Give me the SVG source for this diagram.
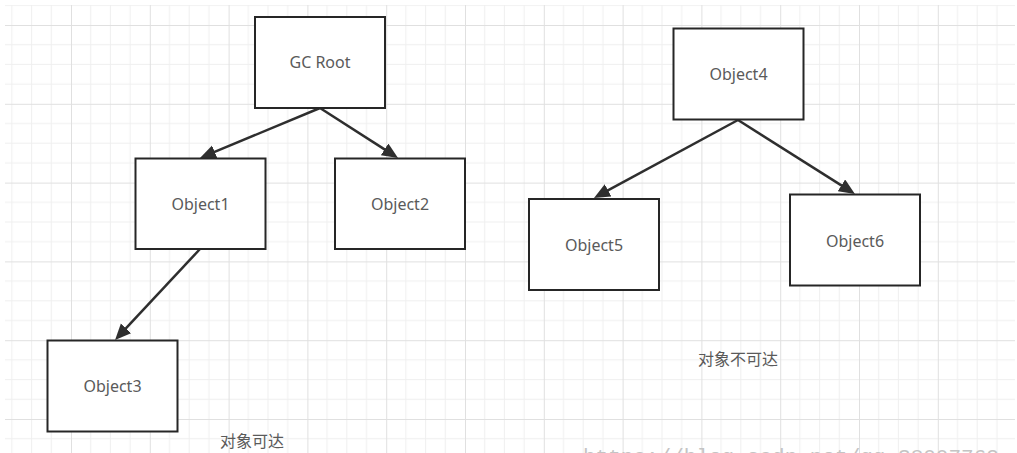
<svg xmlns="http://www.w3.org/2000/svg" width="1017" height="453" viewBox="0 0 1017 453">
  <style>
    .box { fill: #ffffff; stroke: #262626; stroke-width: 2; }
    .lbl { font-family: "Noto Sans", "Noto Sans CJK SC", sans-serif; font-size: 16px; fill: #5a5a5a; text-anchor: middle; }
    .cap { font-family: "Noto Sans CJK SC", "Noto Sans", sans-serif; font-size: 16px; fill: #5a5a5a; text-anchor: middle; }
    .edge { fill: none; stroke: #2e2e2e; stroke-width: 2.5; }
    .wm { font-family: "Liberation Mono", monospace; font-size: 21px; fill: #c4c4c4; }
  </style>
  <defs>
    <pattern id="grid" patternUnits="userSpaceOnUse" x="-7.8" y="-53.8" width="78.8" height="78.8">
      <path d="M19.7,0 V78.8 M39.4,0 V78.8 M59.1,0 V78.8 M0,19.7 H78.8 M0,39.4 H78.8 M0,59.1 H78.8" stroke="#efefef" stroke-width="1" fill="none"/>
      <path d="M0.5,0 V78.8 M0,0.5 H78.8" stroke="#e0e0e0" stroke-width="1" fill="none"/>
    </pattern>
    <marker id="arr" markerUnits="userSpaceOnUse" markerWidth="18" markerHeight="15" refX="6" refY="7" orient="auto">
      <path d="M0,0 L16,7 L0,14 Z" fill="#2e2e2e"/>
    </marker>
  </defs>
  <rect x="0" y="0" width="1017" height="453" fill="#ffffff"/>
  <rect x="5" y="5" width="1010" height="448" fill="url(#grid)"/>

  <g id="connectors">
    <path class="edge" d="M320,108 L209.2,154.2" marker-end="url(#arr)"/>
    <path class="edge" d="M320,108 L389.6,152.6" marker-end="url(#arr)"/>
    <path class="edge" d="M200,249 L121.9,332.7" marker-end="url(#arr)"/>
    <path class="edge" d="M738,120 L602.8,193.2" marker-end="url(#arr)"/>
    <path class="edge" d="M738,120 L846.5,188.6" marker-end="url(#arr)"/>
  </g>

  <g id="gcroot">
    <rect class="box" x="255" y="17" width="130" height="91"/>
    <text class="lbl" x="320" y="68">GC Root</text>
  </g>
  <g id="object1">
    <rect class="box" x="135.5" y="158.5" width="130" height="90.5"/>
    <text class="lbl" x="200.5" y="210">Object1</text>
  </g>
  <g id="object2">
    <rect class="box" x="335" y="158.5" width="130" height="90.5"/>
    <text class="lbl" x="400" y="210">Object2</text>
  </g>
  <g id="object3">
    <rect class="box" x="47.5" y="340.5" width="130" height="91"/>
    <text class="lbl" x="112.5" y="392">Object3</text>
  </g>
  <g id="object4">
    <rect class="box" x="673.5" y="28.5" width="130" height="91"/>
    <text class="lbl" x="738.5" y="80">Object4</text>
  </g>
  <g id="object5">
    <rect class="box" x="529" y="199" width="130" height="91"/>
    <text class="lbl" x="594" y="251">Object5</text>
  </g>
  <g id="object6">
    <rect class="box" x="790" y="194.5" width="130" height="91"/>
    <text class="lbl" x="855" y="247">Object6</text>
  </g>

  <g id="captions">
    <text class="cap" x="252" y="447">对象可达</text>
    <text class="cap" x="738" y="365">对象不可达</text>
  </g>
  <text class="wm" x="583" y="463">https://blog.csdn.net/qq_38007762</text>
</svg>
